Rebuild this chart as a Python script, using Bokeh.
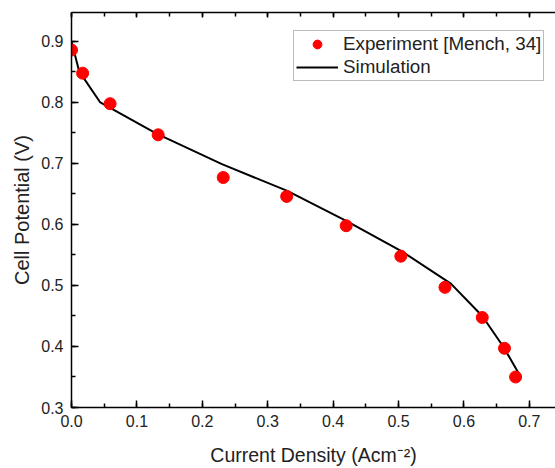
from bokeh.plotting import figure
from bokeh.models import (Range1d, LinearAxis, SingleIntervalTicker, Legend, LegendItem,
                          NumeralTickFormatter)
from bokeh.embed import file_html
from bokeh.resources import INLINE

# Experimental data
exp_j = [0.0, 0.017, 0.059, 0.1325, 0.232, 0.329, 0.420, 0.5035, 0.571, 0.628, 0.662, 0.679]
exp_v = [0.886, 0.848, 0.798, 0.747, 0.677, 0.646, 0.598, 0.548, 0.497, 0.4475, 0.397, 0.350]

# Simulation curve
sim_j = [0.0, 0.0117, 0.044, 0.13, 0.23, 0.33, 0.42, 0.505, 0.58, 0.628, 0.660, 0.6865]
sim_v = [0.9, 0.851, 0.800, 0.749, 0.699, 0.655, 0.606, 0.556, 0.503, 0.450, 0.400, 0.351]

FONT = "Liberation Sans"

p = figure(width=555, height=468, x_range=Range1d(0, 0.740), y_range=Range1d(0.3, 0.9475),
           output_backend="svg", toolbar_location=None,
           min_border_left=71, min_border_right=0, min_border_top=12, min_border_bottom=61)
p.grid.visible = False
p.outline_line_color = None
p.background_fill_color = "white"
p.border_fill_color = "white"

line_r = p.line(sim_j, sim_v, line_color="black", line_width=2)
circ_r = p.scatter(exp_j, exp_v, size=12, fill_color="red", line_color="red")

def style_axis(ax, labels=True):
    ax.ticker = SingleIntervalTicker(interval=0.1, num_minor_ticks=2)
    ax.axis_line_color = "black"
    ax.axis_line_width = 1.5
    ax.major_tick_in = 7
    ax.major_tick_out = 0
    ax.minor_tick_in = 4
    ax.minor_tick_out = 0
    ax.major_tick_line_width = 1.5
    ax.minor_tick_line_width = 1.5
    ax.major_label_text_font = FONT
    ax.major_label_text_font_size = "16px"
    ax.major_label_text_color = "#222222"
    ax.formatter = NumeralTickFormatter(format="0.0")
    if not labels:
        ax.major_label_text_font_size = "1px"
        ax.major_label_text_color = None
        ax.major_label_standoff = 0

xa = p.xaxis[0]
ya = p.yaxis[0]
style_axis(xa)
style_axis(ya)
xa.major_label_standoff = 7
ya.major_label_standoff = 8

ya.axis_label = "Cell Potential (V)"
ya.axis_label_text_font = FONT
ya.axis_label_text_font_size = "20px"
ya.axis_label_text_font_style = "normal"
ya.axis_label_text_color = "#222222"
ya.axis_label_standoff = 5

xa.axis_label = "Current Density (Acm\u207b\u00b2)"
xa.axis_label_text_font = FONT
xa.axis_label_text_font_size = "19.5px"
xa.axis_label_text_font_style = "normal"
xa.axis_label_text_color = "#222222"
xa.axis_label_standoff = 14

top = LinearAxis()
style_axis(top, labels=False)
top.major_tick_in = 5
top.minor_tick_in = 4
p.add_layout(top, "above")

legend = Legend(items=[LegendItem(label="Experiment [Mench, 34]", renderers=[circ_r]),
                       LegendItem(label="Simulation", renderers=[line_r])],
                location=(222, 326))
legend.label_text_font = FONT
legend.label_text_font_size = "18.8px"
legend.label_text_color = "#222222"
legend.glyph_width = 42
legend.glyph_height = 22
legend.label_height = 22
legend.label_standoff = 5
legend.padding = 2
legend.spacing = 1
legend.margin = 0
legend.border_line_color = "#777777"
legend.border_line_width = 1
p.add_layout(legend)

open("out.html", "w").write(file_html(p, INLINE))
